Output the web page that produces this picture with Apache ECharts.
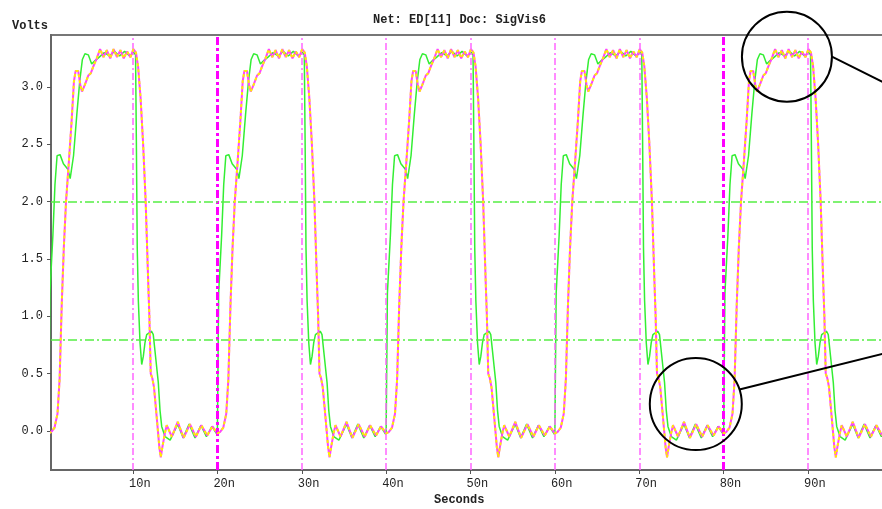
<!DOCTYPE html>
<html>
<head>
<meta charset="utf-8">
<title>Net: ED[11] Doc: SigVis6</title>
<script src="https://cdn.jsdelivr.net/npm/echarts@6/dist/echarts.min.js"></script>
<style>
html,body{margin:0;padding:0;background:#fff}
#main{width:882px;height:509px}
</style>
</head>
<body>
<div id="main"></div>
<script>
// one 20ns period, times relative to the rising edge (ns, V)
var cycleStarts = [0, 20, 40, 60, 80];

var driverT = [0.0, 0.08, 0.15, 0.5, 0.75, 1.0, 1.35, 1.75, 2.3, 2.55, 2.95, 3.35, 3.7, 4.0, 4.3, 4.7, 5.1, 5.5,
	6.0, 6.6, 7.2, 7.8, 8.4, 9.0, 9.6, 10.1, 10.3, 10.4, 10.5, 10.63, 10.83, 11.03, 11.22, 11.42, 11.62,
	12.2, 12.4, 12.8, 13.0, 13.2, 13.4, 13.8, 14.4, 15.3, 15.95, 16.65, 17.35, 18.05, 18.7, 19.35, 19.95];
var driverV = [0.0, 0.0, 1.2, 1.7, 2.15, 2.4, 2.41, 2.33, 2.28, 2.2, 2.4, 2.77, 3.06, 3.24, 3.29, 3.28, 3.2, 3.23,
	3.26, 3.3, 3.27, 3.31, 3.27, 3.31, 3.27, 3.3, 3.28, 2.5, 1.6, 1.14, 0.77, 0.58, 0.65, 0.77, 0.84,
	0.87, 0.84, 0.56, 0.42, 0.18, 0.04, -0.05, -0.08, 0.06, -0.06, 0.06, -0.06, 0.05, -0.05, 0.04, -0.03];

var receiverT = [0.0, 0.3, 0.7, 1.05, 1.3, 1.55, 1.8, 2.06, 2.4, 2.73, 3.0, 3.2, 3.5, 3.75, 3.95, 4.3, 4.7, 5.0,
	5.3, 5.7, 6.1, 6.5, 6.9, 7.3, 7.7, 8.1, 8.5, 8.9, 9.3, 9.7, 10.05, 10.35, 10.6, 10.9, 11.2, 11.5, 11.8,
	11.94, 12.1, 12.29, 12.49, 12.81, 13.12, 13.29, 13.48, 13.8, 14.0, 14.6, 15.3, 16.0, 16.75, 17.45,
	18.1, 18.8, 19.4];
var receiverV = [-0.02, -0.01, 0.03, 0.15, 0.45, 1.1, 1.6, 2.0, 2.35, 2.71, 3.05, 3.14, 3.14, 3.02, 2.96, 3.02, 3.1, 3.12,
	3.18, 3.25, 3.33, 3.26, 3.32, 3.25, 3.33, 3.26, 3.32, 3.25, 3.31, 3.26, 3.33, 3.3, 3.18, 2.9, 2.5, 2.0, 1.3,
	1.0, 0.5, 0.46, 0.38, 0.12, -0.14, -0.23, -0.14, -0.01, 0.05, -0.05, 0.08, -0.06, 0.06, -0.05,
	0.05, -0.04, 0.04];

var markerTimes = [10, 20, 30, 40, 50, 60, 70, 80, 90];
var heavyMarkers = [20, 80];
var thresholds = [2.0, 0.8];
var xTicks = [10, 20, 30, 40, 50, 60, 70, 80, 90];
var yTicks = [0, 0.5, 1.0, 1.5, 2.0, 2.5, 3.0];

function buildTrace(ts, vs){
	var out = [];
	cycleStarts.forEach(function(c){
		for (var i = 0; i < ts.length; i++) out.push([c + ts[i], vs[i]]);
	});
	return out;
}

var font = 'Liberation Mono';
var myChart = echarts.init(document.getElementById('main'));

var marks = [];
markerTimes.forEach(function(t){
	var heavy = heavyMarkers.indexOf(t) >= 0;
	marks.push({
		xAxis: t,
		lineStyle: {
			color: heavy ? '#ff00ff' : '#ff66ff',
			width: heavy ? 3 : 1.5,
			type: heavy ? [8, 3, 3, 3] : [7, 3, 2, 3]
		}
	});
});
thresholds.forEach(function(v){
	marks.push({
		yAxis: v,
		lineStyle: {color: '#55ee44', width: 1.5, type: [9, 3, 2, 3]}
	});
});

var option = {
	animation: false,
	backgroundColor: '#fff',
	title: {
		text: 'Net: ED[11] Doc: SigVis6',
		left: 368,
		top: 9,
		textStyle: {fontFamily: font, fontSize: 12, fontWeight: 'bold', color: '#222'}
	},
	// plot runs off the right edge of the picture
	grid: {
		left: 51, width: 837, top: 35, bottom: 39,
		outerBoundsMode: 'none',
		containLabel: false,
		show: true, borderColor: '#777', borderWidth: 2
	},
	xAxis: {
		type: 'value',
		min: 0.28,
		max: 99.48,
		splitLine: {show: false},
		axisLine: {show: true, onZero: false, lineStyle: {color: '#666', width: 2}},
		axisTick: {show: true, customValues: xTicks, length: 4, lineStyle: {color: '#555'}},
		axisLabel: {
			customValues: xTicks,
			align: 'left',
			margin: 8,
			fontFamily: font,
			fontSize: 12,
			color: '#222',
			padding: [0, 0, 0, -4],
			formatter: function(v){ return Math.round(v) + 'n'; }
		}
	},
	yAxis: {
		type: 'value',
		min: -0.34,
		max: 3.453,
		splitLine: {show: false},
		axisLine: {show: true, onZero: false, lineStyle: {color: '#666', width: 2}},
		axisTick: {show: true, customValues: yTicks, length: 4, lineStyle: {color: '#555'}},
		axisLabel: {
			customValues: yTicks,
			margin: 8,
			fontFamily: font,
			fontSize: 12,
			color: '#222',
			formatter: function(v){ return v.toFixed(1); }
		}
	},
	series: [
		{
			name: 'markers',
			type: 'line',
			data: [],
			silent: true,
			z: 1,
			markLine: {
				silent: true,
				symbol: 'none',
				label: {show: false},
				animation: false,
				data: marks
			}
		},
		{
			name: 'driver',
			type: 'line',
			data: buildTrace(driverT, driverV),
			showSymbol: false,
			z: 3,
			lineStyle: {color: '#33ee33', width: 1.5}
		},
		{
			name: 'receiver',
			type: 'line',
			data: buildTrace(receiverT, receiverV),
			showSymbol: false,
			z: 4,
			lineStyle: {color: '#ff44ff', width: 2}
		},
		{
			name: 'receiver dots',
			type: 'line',
			data: buildTrace(receiverT, receiverV),
			showSymbol: false,
			z: 5,
			lineStyle: {color: '#ffee00', width: 2, type: [3, 3]}
		}
	]
};
myChart.setOption(option);

// callout circles, placed from data coordinates
function callout(t, v, r, ang, len, slope){
	var c = myChart.convertToPixel({gridIndex: 0}, [t, v]);
	var sx = c[0] + r * Math.cos(ang), sy = c[1] + r * Math.sin(ang);
	return [
		{type: 'circle', shape: {cx: c[0], cy: c[1], r: r}, style: {fill: 'none', stroke: '#000', lineWidth: 2}, z: 100},
		{type: 'line', shape: {x1: sx, y1: sy, x2: sx + len, y2: sy + len * slope}, style: {stroke: '#000', lineWidth: 2}, z: 100}
	];
}
var g = [].concat(
	callout(87.5, 3.264, 45, 0, 80, 0.497),
	callout(76.7, 0.235, 46, -0.32, 160, -0.249),
	[
		{type: 'text', left: 12, top: 20, style: {text: 'Volts', font: 'bold 12px ' + font, fill: '#222'}},
		{type: 'text', left: 434, top: 494, style: {text: 'Seconds', font: 'bold 12px ' + font, fill: '#222'}}
	]
);
myChart.setOption({graphic: g});

window.addEventListener("resize", function(){
	myChart.resize();
});
</script>
</body>
</html>
